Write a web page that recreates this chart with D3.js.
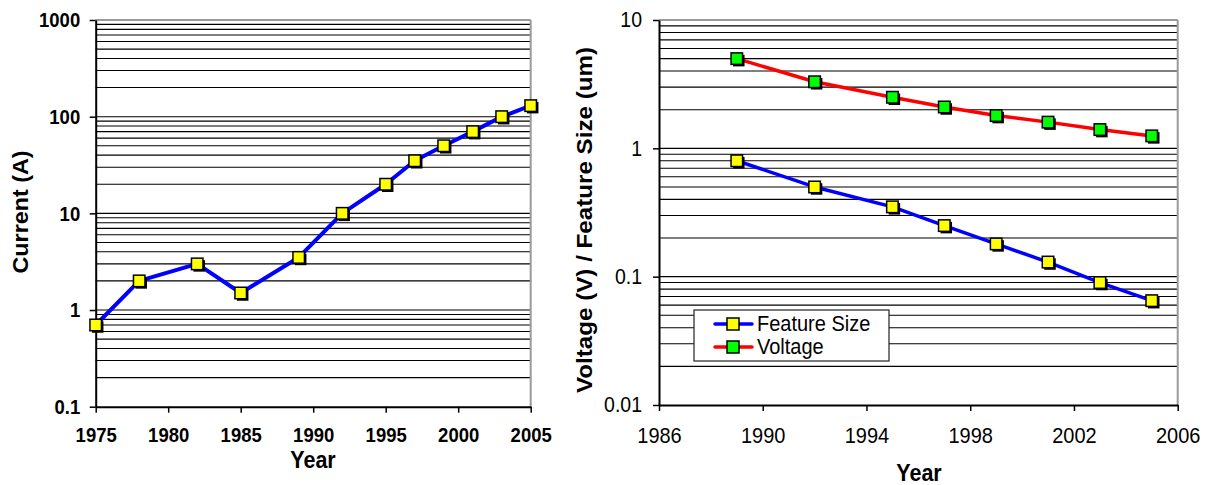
<!DOCTYPE html>
<html>
<head>
<meta charset="utf-8">
<script src="https://cdn.jsdelivr.net/npm/d3@7"></script>
<style>
  html, body { margin: 0; padding: 0; background: #fff; }
  svg { display: block; font-family: "Liberation Sans", Arial, sans-serif; }
</style>
</head>
<body>
<svg id="chart" width="1212" height="485"></svg>
<script>
// ---------- data ----------
const currentYears = [1975, 1978, 1982, 1985, 1989, 1992, 1995, 1997, 1999, 2001, 2003, 2005];
const currentA     = [0.7, 2, 3, 1.5, 3.5, 10, 20, 35, 50, 70, 100, 130];

const techYears    = [1989, 1992, 1995, 1997, 1999, 2001, 2003, 2005];
const featureSize  = [0.8, 0.5, 0.35, 0.25, 0.18, 0.13, 0.09, 0.065];
const voltage      = [5, 3.3, 2.5, 2.1, 1.8, 1.6, 1.4, 1.25];

const leftXTicks   = [1975, 1980, 1985, 1990, 1995, 2000, 2005];
const leftYTicks   = [0.1, 1, 10, 100, 1000];
const leftYLabels  = ["0.1", "1", "10", "100", "1000"];
const rightXTicks  = [1986, 1990, 1994, 1998, 2002, 2006];
const rightYTicks  = [0.01, 0.1, 1, 10];
const rightYLabels = ["0.01", "0.1", "1", "10"];
const legendNames  = ["Feature Size", "Voltage"];

// ---------- setup ----------
const svg = d3.select("#chart");
const STRETCH = 1.14; // glyphs in the reference are slightly taller than wide

function gridValues(lo, hi) {
  const out = [];
  for (let e = Math.round(Math.log10(lo)); Math.pow(10, e) < hi; e++) {
    for (let k = 1; k <= 9; k++) {
      const v = k * Math.pow(10, e);
      if (v > lo && v < hi) out.push(v);
    }
  }
  return out;
}

function drawPanel(opt) {
  const g = svg.append("g");
  const x = d3.scaleLinear().domain(opt.xDomain).range(opt.xRange);
  const y = d3.scaleLog().domain(opt.yDomain).range(opt.yRange);
  const [x0, x1] = opt.xRange;
  const [yb, yt] = opt.yRange;

  // gridlines
  g.append("g").selectAll("line").data(gridValues(opt.yDomain[0], opt.yDomain[1])).join("line")
    .attr("x1", x0).attr("x2", x1)
    .attr("y1", d => y(d)).attr("y2", d => y(d))
    .attr("stroke", "#000").attr("stroke-width", 1.1);

  // frame top / right (gray)
  g.append("line").attr("x1", x0).attr("x2", x1).attr("y1", yt).attr("y2", yt)
    .attr("stroke", "#9a9a9a").attr("stroke-width", 2);
  g.append("line").attr("x1", x1).attr("x2", x1).attr("y1", yt).attr("y2", yb)
    .attr("stroke", "#9a9a9a").attr("stroke-width", 2);

  // axes
  const yAxis = d3.axisLeft(y).tickValues(opt.yTicks)
    .tickFormat((d, i) => opt.yLabels[i]).tickSize(6).tickSizeOuter(0);
  const ya = g.append("g").attr("transform", `translate(${x0},0)`).call(yAxis);
  const xAxis = d3.axisBottom(x).tickValues(opt.xTicks)
    .tickFormat(d3.format("d")).tickSize(6).tickSizeOuter(0);
  const xa = g.append("g").attr("transform", `translate(0,${yb})`).call(xAxis);
  [ya, xa].forEach(a => {
    a.select(".domain").attr("stroke", "#000").attr("stroke-width", 2);
    a.selectAll(".tick line").attr("stroke", "#000").attr("stroke-width", 1.5);
    a.selectAll(".tick text").attr("fill", "#000")
      .attr("font-family", "'Liberation Sans', Arial, sans-serif")
      .attr("font-weight", opt.tickBold ? "bold" : "normal")
      .attr("x", 0).attr("y", 0).attr("dy", 0);
  });
  ya.selectAll(".tick text").attr("font-size", opt.yTickSize)
    .attr("transform", `translate(${opt.yLabelDX},${opt.yLabelDY}) scale(1,${STRETCH})`);
  xa.selectAll(".tick text").attr("font-size", opt.xTickSize)
    .attr("transform", `translate(0,${opt.xLabelDY}) scale(1,${STRETCH})`);

  // axis titles
  g.append("text")
    .attr("transform", `translate(${opt.xTitleX},${opt.xTitleY}) scale(1,${STRETCH})`)
    .attr("text-anchor", "middle").attr("font-weight", "bold").attr("font-size", 21.5)
    .text("Year");
  g.append("text")
    .attr("transform", `translate(${opt.yTitleX},${opt.yTitleCY}) rotate(-90)`)
    .attr("text-anchor", "middle").attr("font-weight", "bold").attr("font-size", 22)
    .attr("textLength", opt.yTitleLen).attr("lengthAdjust", "spacingAndGlyphs")
    .text(opt.yTitle);

  return { g, x, y };
}

function drawSeries(p, years, vals, lineColor, fillColor, lw) {
  const pts = years.map((yr, i) => [p.x(yr), p.y(vals[i])]);
  p.g.append("path").datum(pts)
    .attr("d", d3.line())
    .attr("fill", "none").attr("stroke", lineColor).attr("stroke-width", lw)
    .attr("stroke-linejoin", "round");
  drawMarkers(p.g, pts, fillColor);
}

function drawMarkers(g, pts, fillColor) {
  const s = 11.5;
  const m = g.append("g");
  m.selectAll("rect.sh").data(pts).join("rect").attr("class", "sh")
    .attr("x", d => d[0] - s / 2 + 2).attr("y", d => d[1] - s / 2 + 2)
    .attr("width", s).attr("height", s).attr("fill", "#000");
  m.selectAll("rect.mk").data(pts).join("rect").attr("class", "mk")
    .attr("x", d => d[0] - s / 2).attr("y", d => d[1] - s / 2)
    .attr("width", s).attr("height", s)
    .attr("fill", fillColor).attr("stroke", "#000").attr("stroke-width", 1.5);
}

// ---------- left panel ----------
const left = drawPanel({
  xDomain: [1975, 2005], xRange: [95.7, 530.7],
  yDomain: [0.1, 1000], yRange: [406.7, 20],
  yTicks: leftYTicks, yLabels: leftYLabels, xTicks: leftXTicks,
  tickBold: true, yTickSize: 18.5, xTickSize: 18.5,
  yLabelDX: -15.5, yLabelDY: 6.8, xLabelDY: 34.8,
  xTitleX: 313, xTitleY: 467.5,
  yTitle: "Current (A)", yTitleX: 28, yTitleCY: 212, yTitleLen: 123
});
drawSeries(left, currentYears, currentA, "#0000ff", "#ffff00", 4);

// ---------- right panel ----------
const right = drawPanel({
  xDomain: [1986, 2006], xRange: [659, 1177.7],
  yDomain: [0.01, 10], yRange: [405, 20],
  yTicks: rightYTicks, yLabels: rightYLabels, xTicks: rightXTicks,
  tickBold: false, yTickSize: 19.5, xTickSize: 20,
  yLabelDX: -17, yLabelDY: 6.8, xLabelDY: 38,
  xTitleX: 919, xTitleY: 480.5,
  yTitle: "Voltage (V) / Feature Size (um)", yTitleX: 592, yTitleCY: 220, yTitleLen: 346
});
drawSeries(right, techYears, voltage, "#ff0000", "#00ff00", 3.5);
drawSeries(right, techYears, featureSize, "#0000ff", "#ffff00", 3.5);

// ---------- legend ----------
const lg = svg.append("g");
lg.append("rect").attr("x", 694).attr("y", 310).attr("width", 195).attr("height", 51)
  .attr("fill", "#fff").attr("stroke", "#222").attr("stroke-width", 1.2);
const legendColors = [["#0000ff", "#ffff00"], ["#ff0000", "#00ff00"]];
legendNames.forEach((name, i) => {
  const cy = 324 + i * 23;
  lg.append("line").attr("x1", 715).attr("x2", 752).attr("y1", cy).attr("y2", cy)
    .attr("stroke", legendColors[i][0]).attr("stroke-width", 3.5).attr("stroke-linecap", "round");
  lg.append("rect").attr("x", 733 - 6).attr("y", cy - 6).attr("width", 12).attr("height", 12)
    .attr("fill", legendColors[i][1]).attr("stroke", "#000").attr("stroke-width", 1.5);
  lg.append("text")
    .attr("transform", `translate(757,${cy + 6.5}) scale(1,${STRETCH})`)
    .attr("font-size", 20).attr("fill", "#000")
    .text(name);
});
</script>
</body>
</html>
